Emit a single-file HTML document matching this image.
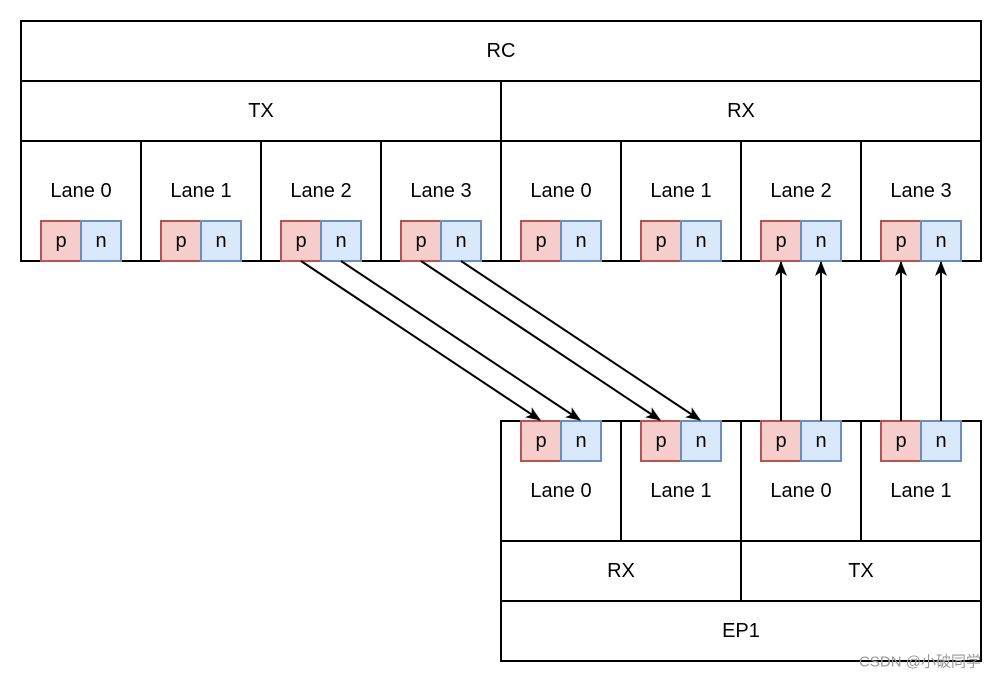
<!DOCTYPE html>
<html><head><meta charset="utf-8"><style>
html,body{margin:0;padding:0;background:#fff;}
svg{display:block;}
text{font-family:"Liberation Sans","Noto Sans CJK SC",sans-serif;font-size:20px;fill:#000;text-anchor:middle;dominant-baseline:central;}
</style></head><body>
<svg width="1002" height="682" viewBox="0 0 1002 682" xmlns="http://www.w3.org/2000/svg">
<defs><marker id="a" markerWidth="16" markerHeight="14" refX="14" refY="7" orient="auto" markerUnits="userSpaceOnUse" viewBox="0 0 16 14"><path d="M0,1 L15,7 L0,13 L4,7 Z" fill="#000"/></marker></defs>
<g fill="#fff" stroke="#000" stroke-width="2">
<rect x="21" y="21" width="960" height="60"/>
<rect x="21" y="81" width="480" height="60"/>
<rect x="501" y="81" width="480" height="60"/>
<rect x="21" y="141" width="120" height="120"/><rect x="141" y="141" width="120" height="120"/>
<rect x="261" y="141" width="120" height="120"/><rect x="381" y="141" width="120" height="120"/>
<rect x="501" y="141" width="120" height="120"/><rect x="621" y="141" width="120" height="120"/>
<rect x="741" y="141" width="120" height="120"/><rect x="861" y="141" width="120" height="120"/>
<rect x="501" y="421" width="120" height="120"/><rect x="621" y="421" width="120" height="120"/>
<rect x="741" y="421" width="120" height="120"/><rect x="861" y="421" width="120" height="120"/>
<rect x="501" y="541" width="240" height="60"/><rect x="741" y="541" width="240" height="60"/>
<rect x="501" y="601" width="480" height="60"/>
</g>
<g stroke-width="2">
<g fill="#f8cecc" stroke="#b85450">
<rect x="41" y="221" width="40" height="40"/><rect x="161" y="221" width="40" height="40"/><rect x="281" y="221" width="40" height="40"/><rect x="401" y="221" width="40" height="40"/>
<rect x="521" y="221" width="40" height="40"/><rect x="641" y="221" width="40" height="40"/><rect x="761" y="221" width="40" height="40"/><rect x="881" y="221" width="40" height="40"/>
<rect x="521" y="421" width="40" height="40"/><rect x="641" y="421" width="40" height="40"/><rect x="761" y="421" width="40" height="40"/><rect x="881" y="421" width="40" height="40"/>
</g>
<g fill="#dae8fc" stroke="#6c8ebf">
<rect x="81" y="221" width="40" height="40"/><rect x="201" y="221" width="40" height="40"/><rect x="321" y="221" width="40" height="40"/><rect x="441" y="221" width="40" height="40"/>
<rect x="561" y="221" width="40" height="40"/><rect x="681" y="221" width="40" height="40"/><rect x="801" y="221" width="40" height="40"/><rect x="921" y="221" width="40" height="40"/>
<rect x="561" y="421" width="40" height="40"/><rect x="681" y="421" width="40" height="40"/><rect x="801" y="421" width="40" height="40"/><rect x="921" y="421" width="40" height="40"/>
</g>
</g>
<g stroke="#000" stroke-width="2" marker-end="url(#a)">
<line x1="301" y1="261" x2="540" y2="420"/><line x1="341" y1="261" x2="580" y2="420"/>
<line x1="421" y1="261" x2="660" y2="420"/><line x1="461" y1="261" x2="700" y2="420"/>
<line x1="781" y1="421" x2="781" y2="262"/><line x1="821" y1="421" x2="821" y2="262"/>
<line x1="901" y1="421" x2="901" y2="262"/><line x1="941" y1="421" x2="941" y2="262"/>
</g>
<text x="501" y="51">RC</text><text x="261" y="111">TX</text><text x="741" y="111">RX</text>
<text x="81" y="191">Lane 0</text><text x="201" y="191">Lane 1</text><text x="321" y="191">Lane 2</text><text x="441" y="191">Lane 3</text>
<text x="561" y="191">Lane 0</text><text x="681" y="191">Lane 1</text><text x="801" y="191">Lane 2</text><text x="921" y="191">Lane 3</text>
<text x="561" y="491">Lane 0</text><text x="681" y="491">Lane 1</text><text x="801" y="491">Lane 0</text><text x="921" y="491">Lane 1</text>
<text x="621" y="571">RX</text><text x="861" y="571">TX</text><text x="741" y="631">EP1</text>
<g>
<text x="61" y="241">p</text><text x="101" y="241">n</text><text x="181" y="241">p</text><text x="221" y="241">n</text>
<text x="301" y="241">p</text><text x="341" y="241">n</text><text x="421" y="241">p</text><text x="461" y="241">n</text>
<text x="541" y="241">p</text><text x="581" y="241">n</text><text x="661" y="241">p</text><text x="701" y="241">n</text>
<text x="781" y="241">p</text><text x="821" y="241">n</text><text x="901" y="241">p</text><text x="941" y="241">n</text>
<text x="541" y="441">p</text><text x="581" y="441">n</text><text x="661" y="441">p</text><text x="701" y="441">n</text>
<text x="781" y="441">p</text><text x="821" y="441">n</text><text x="901" y="441">p</text><text x="941" y="441">n</text>
</g>
<text x="920" y="662" style="font-size:15px;fill:#999;">CSDN @小破同学</text>
</svg>
</body></html>
